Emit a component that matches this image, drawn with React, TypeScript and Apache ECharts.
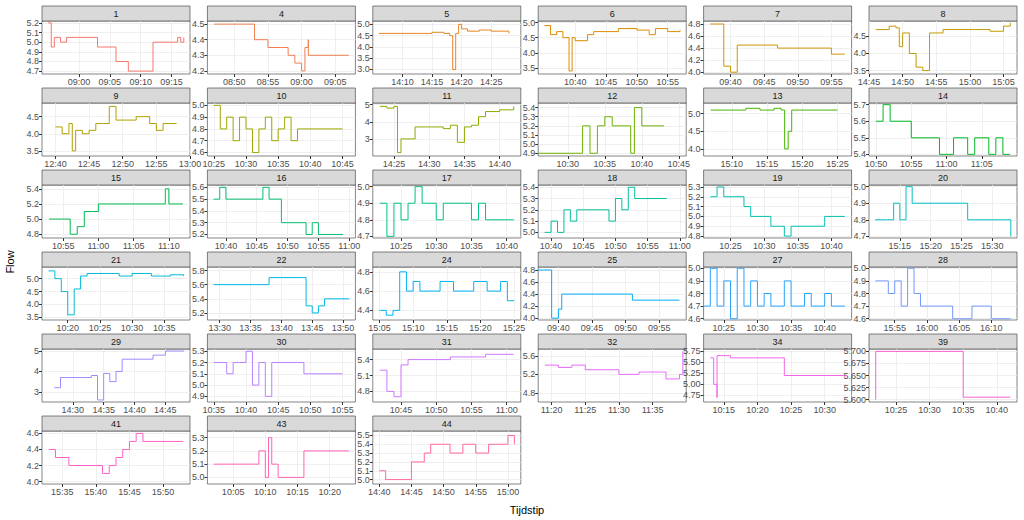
import React, { useEffect, useRef } from 'react';
import * as echarts from 'echarts';

type P = [string, number];
interface Panel { id: string; x: [string, string]; xt: string[]; y: [number, number]; yt: number[]; pts: P[] }

const panels: Panel[] = [
  { id: '1', x: ['08:54', '09:18'], xt: ['09:00', '09:05', '09:10', '09:15'], y: [4.67, 5.22], yt: [4.7, 4.8, 4.9, 5.0, 5.1, 5.2],
    pts: [['08:55', 5.2], ['08:55:30', 4.95], ['08:56', 5.05], ['08:57', 5.0], ['08:58', 5.05], ['09:03', 5.05], ['09:03', 4.95], ['09:06', 4.95], ['09:06', 4.8], ['09:08', 4.8], ['09:08', 4.7], ['09:12', 4.7], ['09:12', 5.0], ['09:15', 5.0], ['09:16', 5.05], ['09:16:30', 5.0], ['09:17', 5.05]] },
  { id: '4', x: ['08:46', '09:08'], xt: ['08:50', '08:55', '09:00', '09:05'], y: [4.18, 4.52], yt: [4.2, 4.3, 4.4, 4.5],
    pts: [['08:47', 4.5], ['08:53', 4.5], ['08:53', 4.4], ['08:55', 4.4], ['08:55', 4.35], ['08:57', 4.35], ['08:58', 4.3], ['08:59', 4.25], ['09:00', 4.2], ['09:00:30', 4.35], ['09:01', 4.4], ['09:01', 4.3], ['09:07', 4.3]] },
  { id: '5', x: ['14:05', '14:30'], xt: ['14:10', '14:15', '14:20', '14:25'], y: [2.8, 5.15], yt: [3.0, 3.5, 4.0, 4.5, 5.0],
    pts: [['14:06', 4.6], ['14:13', 4.6], ['14:15', 4.65], ['14:17', 4.6], ['14:18', 4.5], ['14:18:30', 3.0], ['14:19', 4.6], ['14:19:30', 5.0], ['14:20', 4.8], ['14:21', 4.7], ['14:23', 4.75], ['14:25', 4.7], ['14:28', 4.6]] },
  { id: '6', x: ['10:34', '10:58'], xt: ['10:40', '10:45', '10:50', '10:55'], y: [3.3, 5.05], yt: [3.5, 4.0, 4.5, 5.0],
    pts: [['10:35', 4.9], ['10:36', 4.6], ['10:37', 4.7], ['10:38', 4.5], ['10:39', 3.4], ['10:39:30', 4.5], ['10:40', 4.4], ['10:42', 4.6], ['10:43', 4.7], ['10:45', 4.7], ['10:47', 4.8], ['10:50', 4.75], ['10:52', 4.6], ['10:53', 4.8], ['10:55', 4.7], ['10:57', 4.75]] },
  { id: '7', x: ['09:36', '09:58'], xt: ['09:40', '09:45', '09:50', '09:55'], y: [3.97, 4.85], yt: [4.0, 4.2, 4.4, 4.6, 4.8],
    pts: [['09:37', 4.8], ['09:39', 4.8], ['09:39', 4.1], ['09:40', 4.0], ['09:41', 4.45], ['09:47', 4.45], ['09:47', 4.4], ['09:55', 4.4], ['09:55', 4.3], ['09:57', 4.3]] },
  { id: '8', x: ['14:45', '15:07'], xt: ['14:45', '14:50', '14:55', '15:00', '15:05'], y: [3.4, 4.95], yt: [3.5, 4.0, 4.5],
    pts: [['14:46', 4.7], ['14:48', 4.8], ['14:49', 4.75], ['14:49:30', 4.2], ['14:50', 4.6], ['14:51', 4.0], ['14:52', 3.6], ['14:53', 3.5], ['14:54', 4.6], ['14:56', 4.7], ['15:00', 4.7], ['15:03', 4.65], ['15:05', 4.8], ['15:06', 4.9]] },
  { id: '9', x: ['12:38', '13:00'], xt: ['12:40', '12:45', '12:50', '12:55', '13:00'], y: [3.35, 4.9], yt: [3.5, 4.0, 4.5],
    pts: [['12:40', 4.2], ['12:41', 4.0], ['12:42', 4.3], ['12:42:30', 3.5], ['12:43', 4.1], ['12:44', 4.0], ['12:45', 4.1], ['12:46', 4.3], ['12:47', 4.3], ['12:48', 4.8], ['12:49', 4.4], ['12:52', 4.5], ['12:54', 4.3], ['12:55', 4.1], ['12:56', 4.3], ['12:58', 4.3]] },
  { id: '10', x: ['10:24', '10:47'], xt: ['10:25', '10:30', '10:35', '10:40', '10:45'], y: [4.57, 5.02], yt: [4.6, 4.7, 4.8, 4.9, 5.0],
    pts: [['10:25', 5.0], ['10:26', 4.8], ['10:27', 4.9], ['10:28', 4.7], ['10:29', 4.9], ['10:30', 4.8], ['10:31', 4.6], ['10:32', 4.8], ['10:33', 4.9], ['10:34', 4.7], ['10:35', 4.8], ['10:36', 4.9], ['10:37', 4.7], ['10:38', 4.8], ['10:45', 4.8]] },
  { id: '11', x: ['14:22', '14:43'], xt: ['14:25', '14:30', '14:35', '14:40'], y: [2.0, 5.1], yt: [3, 4, 5],
    pts: [['14:23', 4.9], ['14:24', 4.8], ['14:25', 4.9], ['14:25:30', 2.2], ['14:26', 3.0], ['14:28', 3.7], ['14:32', 3.6], ['14:33', 3.8], ['14:34', 2.8], ['14:35', 3.7], ['14:36', 3.8], ['14:37', 4.3], ['14:38', 4.6], ['14:40', 4.7], ['14:42', 4.9]] },
  { id: '12', x: ['10:26', '10:46'], xt: ['10:30', '10:35', '10:40', '10:45'], y: [4.87, 5.45], yt: [4.9, 5.0, 5.1, 5.2, 5.3, 5.4],
    pts: [['10:26', 4.9], ['10:31', 4.9], ['10:32', 5.2], ['10:33', 4.9], ['10:34', 5.2], ['10:35', 5.3], ['10:36', 5.2], ['10:38', 5.2], ['10:38:30', 4.9], ['10:39', 5.4], ['10:40', 5.2], ['10:43', 5.2]] },
  { id: '13', x: ['15:06', '15:27'], xt: ['15:10', '15:15', '15:20', '15:25'], y: [3.8, 5.3], yt: [4.0, 4.5, 5.0],
    pts: [['15:07', 5.1], ['15:12', 5.15], ['15:14', 5.1], ['15:16', 5.15], ['15:17', 5.1], ['15:17:30', 4.0], ['15:18', 4.5], ['15:18:30', 5.1], ['15:22', 5.1], ['15:25', 5.1]] },
  { id: '14', x: ['10:49', '11:10'], xt: ['10:50', '10:55', '11:00', '11:05'], y: [5.39, 5.71], yt: [5.4, 5.5, 5.6, 5.7],
    pts: [['10:50', 5.6], ['10:51', 5.7], ['10:52', 5.6], ['10:55', 5.6], ['10:55', 5.5], ['10:59', 5.5], ['10:59', 5.4], ['11:01', 5.4], ['11:01', 5.5], ['11:03', 5.4], ['11:04', 5.5], ['11:06', 5.4], ['11:07', 5.5], ['11:08', 5.4], ['11:09', 5.4]] },
  { id: '15', x: ['10:52', '11:13'], xt: ['10:55', '11:00', '11:05', '11:10'], y: [4.75, 5.45], yt: [4.8, 5.0, 5.2, 5.4],
    pts: [['10:53', 5.0], ['10:55', 5.0], ['10:56', 4.8], ['10:57', 4.9], ['10:58', 5.1], ['10:59', 5.1], ['11:00', 5.2], ['11:01', 5.2], ['11:09', 5.2], ['11:09:30', 5.4], ['11:10', 5.2], ['11:12', 5.2]] },
  { id: '16', x: ['10:37', '11:01'], xt: ['10:40', '10:45', '10:50', '10:55', '11:00'], y: [5.17, 5.62], yt: [5.2, 5.3, 5.4, 5.5, 5.6],
    pts: [['10:38', 5.5], ['10:39', 5.6], ['10:40', 5.5], ['10:46', 5.5], ['10:46', 5.6], ['10:47', 5.5], ['10:48', 5.5], ['10:49', 5.3], ['10:52', 5.3], ['10:53', 5.2], ['10:54', 5.3], ['10:55', 5.2], ['10:59', 5.2]] },
  { id: '17', x: ['10:21', '10:42'], xt: ['10:25', '10:30', '10:35', '10:40'], y: [4.69, 5.01], yt: [4.7, 4.8, 4.9, 5.0],
    pts: [['10:22', 4.9], ['10:23', 4.7], ['10:24', 4.9], ['10:25', 4.8], ['10:26', 4.9], ['10:27', 5.0], ['10:28', 4.9], ['10:29', 4.9], ['10:30', 4.8], ['10:31', 4.9], ['10:34', 4.9], ['10:35', 4.8], ['10:36', 4.9], ['10:37', 4.8], ['10:41', 4.8]] },
  { id: '18', x: ['10:38', '11:01'], xt: ['10:40', '10:45', '10:50', '10:55', '11:00'], y: [4.95, 5.42], yt: [5.0, 5.1, 5.2, 5.3, 5.4],
    pts: [['10:39', 5.0], ['10:40', 5.1], ['10:41', 5.0], ['10:42', 5.2], ['10:43', 5.1], ['10:44', 5.2], ['10:48', 5.2], ['10:49', 5.1], ['10:50', 5.3], ['10:51', 5.2], ['10:52', 5.4], ['10:53', 5.3], ['10:58', 5.3]] },
  { id: '19', x: ['10:21', '10:43'], xt: ['10:25', '10:30', '10:35', '10:40'], y: [4.78, 5.32], yt: [4.8, 4.9, 5.0, 5.1, 5.2, 5.3],
    pts: [['10:22', 5.2], ['10:23', 5.3], ['10:24', 5.2], ['10:27', 5.1], ['10:28', 5.0], ['10:30', 5.0], ['10:31', 4.9], ['10:33', 4.8], ['10:34', 4.9], ['10:38', 4.9], ['10:39', 5.0], ['10:42', 5.0]] },
  { id: '20', x: ['15:10', '15:34'], xt: ['15:15', '15:20', '15:25', '15:30'], y: [4.69, 5.01], yt: [4.7, 4.8, 4.9, 5.0],
    pts: [['15:11', 4.8], ['15:13', 4.8], ['15:14', 4.9], ['15:15', 4.8], ['15:16', 5.0], ['15:17', 4.9], ['15:25', 4.9], ['15:26', 4.8], ['15:32', 4.8], ['15:33', 4.7]] },
  { id: '21', x: ['10:16', '10:39'], xt: ['10:20', '10:25', '10:30', '10:35'], y: [3.4, 5.45], yt: [3.5, 4.0, 4.5, 5.0, 5.5],
    pts: [['10:17', 5.3], ['10:18', 5.0], ['10:19', 4.5], ['10:20', 3.6], ['10:21', 4.6], ['10:22', 5.1], ['10:23', 5.2], ['10:26', 5.2], ['10:28', 5.1], ['10:30', 5.2], ['10:33', 5.1], ['10:36', 5.15], ['10:38', 5.1]] },
  { id: '22', x: ['13:28', '13:52'], xt: ['13:30', '13:35', '13:40', '13:45', '13:50'], y: [5.1, 5.85], yt: [5.2, 5.4, 5.6, 5.8],
    pts: [['13:29', 5.6], ['13:37', 5.6], ['13:38', 5.7], ['13:40', 5.7], ['13:43', 5.7], ['13:44', 5.3], ['13:45', 5.2], ['13:46', 5.3], ['13:47', 5.4], ['13:51', 5.4]] },
  { id: '24', x: ['15:04', '15:26'], xt: ['15:05', '15:10', '15:15', '15:20', '15:25'], y: [4.3, 4.85], yt: [4.4, 4.6, 4.8],
    pts: [['15:05', 4.4], ['15:06', 4.35], ['15:07', 4.4], ['15:08', 4.8], ['15:09', 4.6], ['15:10', 4.7], ['15:11', 4.6], ['15:13', 4.6], ['15:14', 4.7], ['15:16', 4.6], ['15:18', 4.6], ['15:19', 4.7], ['15:21', 4.6], ['15:23', 4.7], ['15:24', 4.5], ['15:25', 4.5]] },
  { id: '25', x: ['09:37', '09:59'], xt: ['09:40', '09:45', '09:50', '09:55'], y: [3.97, 4.85], yt: [4.0, 4.2, 4.4, 4.6, 4.8],
    pts: [['09:37', 4.8], ['09:39', 4.8], ['09:39', 4.0], ['09:40', 4.15], ['09:40:30', 4.4], ['09:50', 4.4], ['09:51', 4.3], ['09:58', 4.3]] },
  { id: '27', x: ['10:22', '10:44'], xt: ['10:25', '10:30', '10:35', '10:40'], y: [4.59, 5.01], yt: [4.6, 4.7, 4.8, 4.9, 5.0],
    pts: [['10:22', 4.7], ['10:23', 5.0], ['10:24', 4.7], ['10:25', 4.9], ['10:26', 4.6], ['10:27', 5.0], ['10:28', 4.7], ['10:29', 4.9], ['10:30', 4.7], ['10:31', 4.8], ['10:32', 4.7], ['10:34', 4.9], ['10:35', 4.7], ['10:37', 4.8], ['10:38', 4.7], ['10:40', 4.8], ['10:41', 4.7], ['10:43', 4.7]] },
  { id: '28', x: ['15:51', '16:14'], xt: ['15:55', '16:00', '16:05', '16:10'], y: [4.59, 5.01], yt: [4.6, 4.7, 4.8, 4.9, 5.0],
    pts: [['15:52', 4.9], ['15:54', 4.8], ['15:55', 4.9], ['15:56', 4.7], ['15:57', 5.0], ['15:58', 4.8], ['15:59', 4.7], ['16:02', 4.7], ['16:04', 4.6], ['16:06', 4.6], ['16:07', 4.7], ['16:09', 4.7], ['16:10', 4.6], ['16:13', 4.6]] },
  { id: '29', x: ['14:25', '14:49'], xt: ['14:30', '14:35', '14:40', '14:45'], y: [2.5, 5.1], yt: [3, 4, 5],
    pts: [['14:27', 3.2], ['14:28', 3.7], ['14:33', 3.8], ['14:34', 2.6], ['14:35', 3.9], ['14:36', 3.5], ['14:37', 4.0], ['14:38', 4.6], ['14:42', 4.6], ['14:43', 4.8], ['14:45', 5.0], ['14:48', 5.0]] },
  { id: '30', x: ['10:34', '10:57'], xt: ['10:35', '10:40', '10:45', '10:50', '10:55'], y: [4.85, 5.32], yt: [4.9, 5.0, 5.1, 5.2, 5.3],
    pts: [['10:35', 5.2], ['10:37', 5.1], ['10:38', 5.2], ['10:39', 5.2], ['10:40', 5.3], ['10:41', 5.0], ['10:42', 5.2], ['10:43', 4.9], ['10:44', 5.2], ['10:48', 5.2], ['10:49', 5.1], ['10:55', 5.1]] },
  { id: '31', x: ['10:41', '11:02'], xt: ['10:45', '10:50', '10:55', '11:00'], y: [4.6, 5.6], yt: [4.8, 5.1, 5.4],
    pts: [['10:42', 5.2], ['10:43', 4.8], ['10:44', 4.7], ['10:45', 5.3], ['10:46', 5.4], ['10:50', 5.4], ['10:52', 5.45], ['10:57', 5.5], ['11:01', 5.5]] },
  { id: '32', x: ['11:18', '11:40'], xt: ['11:20', '11:25', '11:30', '11:35'], y: [4.6, 5.75], yt: [4.8, 5.2, 5.6],
    pts: [['11:19', 5.4], ['11:21', 5.35], ['11:23', 5.4], ['11:25', 5.3], ['11:28', 5.3], ['11:30', 5.2], ['11:33', 5.25], ['11:37', 5.1], ['11:39', 5.2], ['11:39:30', 5.7]] },
  { id: '34', x: ['10:12', '10:34'], xt: ['10:15', '10:20', '10:25', '10:30'], y: [4.6, 5.8], yt: [4.75, 5.0, 5.25, 5.5, 5.75],
    pts: [['10:13', 5.6], ['10:13:30', 5.0], ['10:14', 4.7], ['10:14', 5.65], ['10:16', 5.6], ['10:24', 5.6], ['10:24', 5.2], ['10:32', 5.2], ['10:33', 5.15]] },
  { id: '39', x: ['10:21', '10:43'], xt: ['10:25', '10:30', '10:35', '10:40'], y: [5.595, 5.705], yt: [5.6, 5.625, 5.65, 5.675, 5.7],
    pts: [['10:22', 5.6], ['10:22', 5.7], ['10:35', 5.7], ['10:35', 5.605], ['10:42', 5.605]] },
  { id: '41', x: ['15:32', '15:54'], xt: ['15:35', '15:40', '15:45', '15:50'], y: [3.97, 4.63], yt: [4.0, 4.2, 4.4, 4.6],
    pts: [['15:33', 4.4], ['15:34', 4.3], ['15:36', 4.3], ['15:36', 4.2], ['15:40', 4.2], ['15:41', 4.1], ['15:42', 4.2], ['15:43', 4.3], ['15:44', 4.4], ['15:45', 4.5], ['15:46', 4.6], ['15:47', 4.5], ['15:53', 4.5]] },
  { id: '43', x: ['10:01', '10:24'], xt: ['10:05', '10:10', '10:15', '10:20'], y: [4.95, 5.35], yt: [5.0, 5.1, 5.2, 5.3],
    pts: [['10:02', 5.1], ['10:08', 5.1], ['10:09', 5.2], ['10:10', 5.0], ['10:10:30', 5.3], ['10:11', 5.1], ['10:12', 5.0], ['10:16', 5.0], ['10:16', 5.2], ['10:23', 5.2]] },
  { id: '44', x: ['14:39', '15:02'], xt: ['14:40', '14:45', '14:50', '14:55', '15:00'], y: [4.95, 5.55], yt: [5.0, 5.1, 5.2, 5.3, 5.4, 5.5],
    pts: [['14:40', 5.1], ['14:41', 5.0], ['14:44', 5.0], ['14:45', 5.2], ['14:47', 5.3], ['14:48', 5.4], ['14:50', 5.4], ['14:51', 5.3], ['14:53', 5.4], ['14:55', 5.3], ['14:57', 5.4], ['15:00', 5.5], ['15:01', 5.4]] },
];

const toMin = (s: string) => {
  const [h, m, sec] = s.split(':').map(Number);
  return h * 60 + m + (sec || 0) / 60;
};
const fmt = (v: number) => {
  const r = Math.round(v);
  return String(Math.floor(r / 60)).padStart(2, '0') + ':' + String(r % 60).padStart(2, '0');
};
const decimals = (vals: number[]) => Math.max(...vals.map((v) => (String(v).split('.')[1] || '').length));

// ggplot-style hue palette (HCL, l=65, c=100)
const hcl = (h: number) => {
  const L = 65, C = 100, rad = (h * Math.PI) / 180;
  const u = C * Math.cos(rad), v = C * Math.sin(rad);
  const Y = Math.pow((L + 16) / 116, 3);
  const un = 0.19784, vn = 0.46832;
  const up = u / (13 * L) + un, vp = v / (13 * L) + vn;
  const X = (Y * 9 * up) / (4 * vp), Z = (Y * (12 - 3 * up - 20 * vp)) / (4 * vp);
  const lin = [3.2406 * X - 1.5372 * Y - 0.4986 * Z, -0.9689 * X + 1.8758 * Y + 0.0415 * Z, 0.0557 * X - 0.204 * Y + 1.057 * Z];
  return '#' + lin.map((c) => {
    const g = c <= 0.0031308 ? 12.92 * c : 1.055 * Math.pow(c, 1 / 2.4) - 0.055;
    return Math.round(Math.max(0, Math.min(1, g)) * 255).toString(16).padStart(2, '0');
  }).join('');
};

const App: React.FC = () => {
  const ref = useRef<HTMLDivElement>(null);
  useEffect(() => {
    if (!ref.current) return;
    const chart = echarts.init(ref.current, null, { renderer: 'svg' });
    const n = panels.length;
    const grid: any[] = [], xAxis: any[] = [], yAxis: any[] = [], series: any[] = [], graphic: any[] = [];
    panels.forEach((p, i) => {
      const col = i % 6, row = Math.floor(i / 6);
      const left = 42 + col * 165.4, top = 21 + row * 82, w = 148, h = 53;
      const color = hcl(15 + (360 * i) / (n + 1));
      grid.push({ left, top, width: w, height: h, show: true, backgroundColor: '#fff', borderColor: '#333', borderWidth: 0.6 });
      graphic.push({ type: 'rect', shape: { x: left, y: top - 15, width: w, height: 15 }, style: { fill: '#d9d9d9', stroke: '#333', lineWidth: 0.6 } });
      graphic.push({ type: 'text', x: left + w / 2, y: top - 7.5, style: { text: p.id, fill: '#1a1a1a', fontSize: 9, align: 'center', verticalAlign: 'middle', fontFamily: 'Liberation Sans' } });
      const xt = p.xt.map(toMin);
      const dec = decimals(p.yt);
      xAxis.push({
        type: 'value', gridIndex: i, min: toMin(p.x[0]), max: toMin(p.x[1]),
        axisLine: { show: false },
        axisTick: { show: true, length: 3, lineStyle: { color: '#333' }, customValues: xt },
        axisLabel: { customValues: xt, formatter: fmt, fontSize: 9, color: '#4d4d4d', margin: 3, fontFamily: 'Liberation Sans' },
        splitLine: { show: true, lineStyle: { color: '#ebebeb', width: 0.8 } },
      });
      yAxis.push({
        type: 'value', gridIndex: i, min: p.y[0], max: p.y[1],
        axisLine: { show: false },
        axisTick: { show: true, length: 3, lineStyle: { color: '#333' }, customValues: p.yt },
        axisLabel: { customValues: p.yt, formatter: (v: number) => v.toFixed(dec), fontSize: 9, color: '#4d4d4d', margin: 3, fontFamily: 'Liberation Sans' },
        splitLine: { show: true, lineStyle: { color: '#ebebeb', width: 0.8 } },
      });
      series.push({
        type: 'line', xAxisIndex: i, yAxisIndex: i, showSymbol: false, silent: true, step: 'end',
        lineStyle: { color, width: 1 }, data: p.pts.map(([t, v]) => [toMin(t), v]),
      });
    });
    graphic.push({ type: 'text', x: 10, y: 262, rotation: Math.PI / 2, style: { text: 'Flow', fontSize: 11, fill: '#000', align: 'center', verticalAlign: 'middle', fontFamily: 'Liberation Sans' } });
    graphic.push({ type: 'text', x: 527, y: 510, style: { text: 'Tijdstip', fontSize: 11, fill: '#000', align: 'center', verticalAlign: 'middle', fontFamily: 'Liberation Sans' } });
    chart.setOption({ animation: false, backgroundColor: '#fff', grid, xAxis, yAxis, series, graphic });
    return () => chart.dispose();
  }, []);
  return <div ref={ref} style={{ position: 'absolute', left: 0, top: 0, width: 1024, height: 520 }} />;
};

export default App;
